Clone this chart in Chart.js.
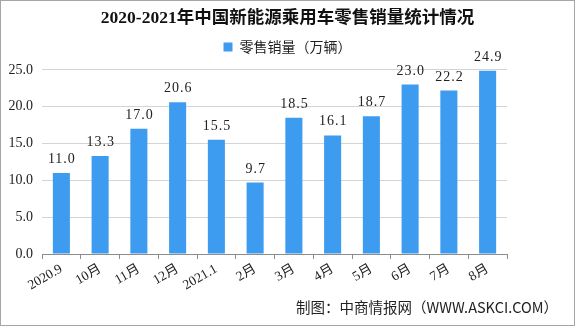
<!DOCTYPE html>
<html>
<head>
<meta charset="utf-8">
<script src="https://cdn.jsdelivr.net/npm/chart.js@4/dist/chart.umd.min.js"></script>
<style>
  html, body { margin: 0; padding: 0; background: #fff; }
  #wrap { width: 575px; height: 326px; }
</style>
</head>
<body>
<div id="wrap"><canvas id="salesChart" width="575" height="326"></canvas></div>
<script>
// --- data ---
const months = ["2020.9", "10月", "11月", "12月", "2021.1", "2月", "3月", "4月", "5月", "6月", "7月", "8月"];
const sales = [11.0, 13.3, 17.0, 20.6, 15.5, 9.7, 18.5, 16.1, 18.7, 23.0, 22.2, 24.9];
const yTicks = [0, 5, 10, 15, 20, 25];

const titleText = "2020-2021年中国新能源乘用车零售销量统计情况";
const seriesName = "零售销量（万辆）";
const sourceText = "制图：中商情报网（WWW.ASKCI.COM）";

const serif = "'Liberation Serif', 'Noto Sans CJK SC', serif";
const sans = "'Noto Sans CJK SC', 'Liberation Sans', sans-serif";

// value labels above bars + source line + frame
const extras = {
  id: "extras",
  afterDatasetsDraw(chart) {
    const ctx = chart.ctx;
    const meta = chart.getDatasetMeta(0);
    ctx.save();
    ctx.fillStyle = "#222";
    ctx.font = "14px " + serif;
    ctx.letterSpacing = "1px";
    ctx.textAlign = "center";
    ctx.textBaseline = "alphabetic";
    meta.data.forEach((bar, i) => {
      ctx.fillText(sales[i].toFixed(1), bar.x + 0.5, bar.y - 10);
    });
    ctx.restore();
  },
  afterDraw(chart) {
    const ctx = chart.ctx;
    ctx.save();
    ctx.fillStyle = "#222";
    ctx.font = "14.5px " + sans;
    ctx.textAlign = "right";
    ctx.textBaseline = "middle";
    ctx.fillText(sourceText, 558, 307);
    ctx.strokeStyle = "#a6a6a6";
    ctx.lineWidth = 1;
    ctx.strokeRect(0.5, 0.5, chart.width - 1, chart.height - 1);
    ctx.restore();
  }
};

new Chart(document.getElementById("salesChart"), {
  type: "bar",
  data: {
    labels: months,
    datasets: [{
      label: seriesName,
      data: sales,
      backgroundColor: "#3d9cf0",
      categoryPercentage: 0.8,
      barPercentage: 0.55
    }]
  },
  options: {
    responsive: false,
    animation: false,
    layout: { padding: { top: 6, right: 0, bottom: 0, left: 0 } },
    plugins: {
      title: {
        display: true,
        text: titleText,
        color: "#111",
        font: { family: serif, size: 17.5, weight: "bold" },
        padding: { top: 2, bottom: 0 }
      },
      legend: {
        display: true,
        labels: {
          color: "#222",
          font: { family: sans, size: 14 },
          boxWidth: 9,
          boxHeight: 9,
          padding: 11
        }
      },
      tooltip: { enabled: false }
    },
    scales: {
      x: {
        afterFit: s => { s.height = 72; },
        grid: {
          display: true,
          drawOnChartArea: false,
          tickLength: 5,
          color: "#8c8c8c"
        },
        border: { color: "#8c8c8c" },
        ticks: {
          color: "#222",
          font: { family: serif, size: 13.5 },
          minRotation: 30,
          maxRotation: 30,
          padding: 2
        }
      },
      y: {
        min: 0,
        max: 25.8,
        afterFit: s => { s.width = 42; },
        afterBuildTicks: s => { s.ticks = yTicks.map(v => ({ value: v })); },
        grid: { color: "#d4d4d4", drawTicks: false },
        border: { display: false },
        ticks: {
          color: "#222",
          font: { family: serif, size: 14 },
          padding: 9,
          callback: v => v.toFixed(1)
        }
      },
      // empty right axis that only keeps the blank margin on the right
      yRight: {
        position: "right",
        min: 0,
        max: 25.8,
        afterFit: s => { s.width = 68; },
        grid: { display: false },
        border: { display: false },
        ticks: { display: false }
      }
    }
  },
  plugins: [extras]
});
</script>
</body>
</html>
